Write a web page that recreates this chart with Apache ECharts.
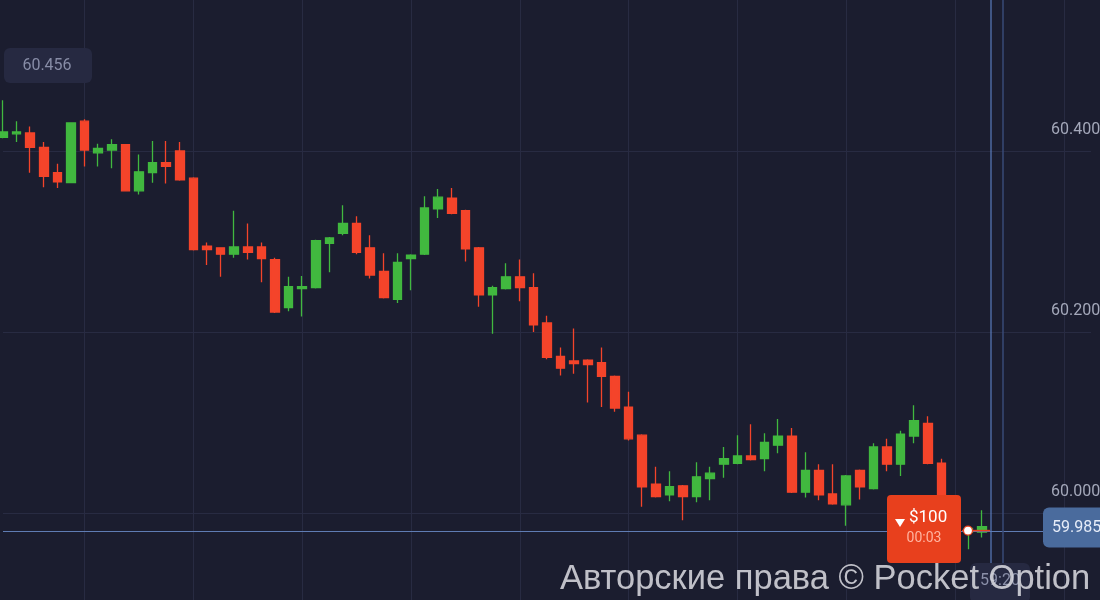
<!DOCTYPE html>
<html>
<head>
<meta charset="utf-8">
<script src="https://cdn.jsdelivr.net/npm/echarts@6/dist/echarts.min.js"></script>
<style>
html,body{margin:0;padding:0;background:#1b1d2f;overflow:hidden;width:1100px;height:600px;position:relative;}
#chart{position:absolute;left:0;top:-30px;width:1100px;height:724px;}
</style>
</head>
<body>
<div id="chart"></div>
<script>
// ---- data ----
const slotCount = 81; // candle slots across the view (last ones are empty future space)
const categories = Array.from({length: slotCount}, (_, i) => 'T' + (i + 1));

const opens = [60.415,60.419,60.420,60.404,60.376,60.365,60.433,60.398,60.401,60.407,
60.356,60.376,60.387,60.400,60.370,60.295,60.293,60.286,60.294,60.294,
60.280,60.227,60.248,60.249,60.298,60.309,60.320,60.293,60.267,60.236,
60.281,60.286,60.336,60.348,60.334,60.293,60.241,60.248,60.261,60.249,
60.210,60.173,60.168,60.169,60.166,60.151,60.117,60.086,60.032,60.020,
60.030,60.018,60.038,60.054,60.055,60.063,60.060,60.075,60.085,60.023,
60.047,60.021,60.009,60.047,60.027,60.073,60.054,60.085,60.099,60.055,
59.992,59.979,59.979];
const closes = [60.421,60.421,60.404,60.372,60.366,60.431,60.401,60.403,60.407,60.356,
60.377,60.387,60.383,60.368,60.291,60.291,60.286,60.294,60.288,60.281,
60.222,60.250,60.250,60.301,60.304,60.320,60.288,60.263,60.238,60.277,
60.285,60.337,60.349,60.331,60.292,60.241,60.249,60.261,60.249,60.208,
60.172,60.160,60.165,60.164,60.151,60.116,60.082,60.029,60.018,60.029,
60.018,60.040,60.044,60.060,60.063,60.059,60.078,60.085,60.023,60.047,
60.020,60.010,60.041,60.029,60.073,60.054,60.087,60.102,60.055,59.990,
59.982,59.983,59.985];
const lows = [60.414,60.410,60.376,60.360,60.359,60.365,60.383,60.383,60.381,60.356,
60.352,60.365,60.364,60.367,60.290,60.274,60.261,60.282,60.280,60.255,
60.221,60.223,60.217,60.248,60.266,60.307,60.286,60.259,60.237,60.232,
60.246,60.285,60.326,60.330,60.278,60.228,60.198,60.247,60.234,60.200,
60.170,60.152,60.154,60.122,60.117,60.112,60.080,60.007,60.017,60.013,
59.992,60.012,60.014,60.039,60.054,60.058,60.046,60.066,60.022,60.017,
60.014,60.009,59.986,60.015,60.026,60.046,60.041,60.077,60.054,59.986,
59.976,59.960,59.973];
const highs = [60.456,60.433,60.427,60.410,60.386,60.431,60.435,60.408,60.413,60.407,
60.396,60.411,60.411,60.410,60.371,60.299,60.293,60.334,60.320,60.299,
60.282,60.261,60.262,60.302,60.305,60.340,60.328,60.307,60.287,60.287,
60.286,60.350,60.358,60.359,60.335,60.294,60.251,60.276,60.280,60.265,
60.218,60.183,60.204,60.170,60.183,60.152,60.134,60.087,60.051,60.046,
60.031,60.056,60.051,60.073,60.086,60.098,60.088,60.104,60.094,60.067,
60.054,60.054,60.042,60.048,60.077,60.082,60.091,60.119,60.107,60.060,
59.993,59.984,60.003];

const currentPrice = 59.985;
const maxPriceLabel = '60.456';
const tradeAmount = '$100';
const tradeTimer = '00:03';
const crossTimeLabel = '59:20';
const watermark = 'Авторские права © Pocket Option';
const yTicks = {min: 59.8, max: 60.6, interval: 0.2};

// ---- chart ----
const GREEN = '#41b83f', RED = '#f4442a';
const DY = 30; // container is shifted up by this many px
const candles = opens.map((o, i) => [o, closes[i], lows[i], highs[i]]);

const chart = echarts.init(document.getElementById('chart'), null, {renderer: 'canvas'});
chart.setOption({
  backgroundColor: '#1b1d2f',
  animation: false,
  grid: {left: 3, right: 9, top: 0, bottom: 0, containLabel: false, outerBoundsMode: 'none'},
  xAxis: {
    type: 'category',
    data: categories,
    boundaryGap: false,
    axisLine: {show: false},
    axisTick: {show: false},
    axisLabel: {show: false},
    splitLine: {
      show: true,
      interval: (idx) => idx % 8 === 6,
      lineStyle: {color: '#282b42', width: 1}
    }
  },
  yAxis: {
    type: 'value',
    position: 'right',
    offset: -41,
    min: yTicks.min, max: yTicks.max, interval: yTicks.interval,
    axisLine: {show: false},
    axisTick: {show: false},
    splitLine: {show: true, lineStyle: {color: '#282b42', width: 1}},
    axisLabel: {
      margin: 1,
      color: '#a4a8ba',
      fontSize: 16,
      fontFamily: 'Roboto',
      verticalAlign: 'bottom',
      padding: [0, 0, 13, 0],
      formatter: (v) => v.toFixed(3)
    }
  },
  series: [{
    type: 'candlestick',
    data: candles,
    barWidth: 9,
    itemStyle: {
      color: GREEN, color0: RED,
      borderColor: GREEN, borderColor0: RED,
      borderWidth: 1.3
    },
    markLine: {
      silent: true,
      symbol: ['none', 'none'],
      label: {show: false},
      lineStyle: {color: '#5f7cb3', width: 1, type: 'solid'},
      data: [{yAxis: currentPrice}]
    }
  }]
});

const py = chart.convertToPixel({yAxisIndex: 0}, currentPrice); // container coords
const Y = (v) => v + DY; // page y -> container y
chart.setOption({
  graphic: [
    // expiration / crosshair vertical lines
    {type: 'line', z: 50, shape: {x1: 991, y1: 0, x2: 991, y2: 724}, style: {stroke: '#5b7dbf', lineWidth: 1.2}},
    {type: 'line', z: 50, shape: {x1: 1003, y1: 0, x2: 1003, y2: 724}, style: {stroke: '#394a77', lineWidth: 1.5}},
    // max price label
    {type: 'rect', z: 60, shape: {x: 4, y: Y(48), width: 88, height: 35, r: 6}, style: {fill: '#262941'}},
    {type: 'text', z: 61, x: 47, y: Y(66), style: {text: maxPriceLabel, fill: '#878ca6', fontSize: 16, fontFamily: 'Roboto', align: 'center', verticalAlign: 'middle'}},
    // trade box
    {type: 'rect', z: 60, shape: {x: 887, y: Y(495), width: 74, height: 68, r: 4}, style: {fill: '#e8401d'}},
    {type: 'polygon', z: 61, shape: {points: [[895, Y(519)], [905, Y(519)], [900, Y(527)]]}, style: {fill: '#ffffff'}},
    {type: 'text', z: 61, x: 909, y: Y(518), style: {text: tradeAmount, fill: '#ffffff', fontSize: 17, fontFamily: 'Roboto', align: 'left', verticalAlign: 'middle'}},
    {type: 'text', z: 61, x: 924, y: Y(538), style: {text: tradeTimer, fill: '#ffb3a0', fontSize: 14, fontFamily: 'Roboto', align: 'center', verticalAlign: 'middle'}},
    // trade line and entry dot
    {type: 'line', z: 55, shape: {x1: 962, y1: py + 4, x2: 990, y2: py + 4}, style: {stroke: '#e8401d', lineWidth: 1.5}},
    {type: 'circle', z: 62, shape: {cx: 968, cy: py + 4, r: 4.5}, style: {fill: '#ffffff', stroke: '#e8401d', lineWidth: 1.2}},
    // current price label
    {type: 'rect', z: 60, shape: {x: 1043, y: py - 19, width: 70, height: 40, r: 6}, style: {fill: '#4a6b9d'}},
    {type: 'text', z: 61, x: 1052, y: py + 1, style: {text: currentPrice.toFixed(3), fill: '#e6ecf8', fontSize: 16, fontFamily: 'Roboto', align: 'left', verticalAlign: 'middle'}},
    // bottom time label
    {type: 'rect', z: 60, shape: {x: 970, y: Y(563), width: 60, height: 40, r: 6}, style: {fill: '#262941'}},
    {type: 'text', z: 61, x: 1000, y: Y(581), style: {text: crossTimeLabel, fill: '#8a8fa8', fontSize: 16, fontFamily: 'Roboto', align: 'center', verticalAlign: 'middle'}},
    // watermark
    {type: 'text', z: 70, x: 560, y: Y(579), style: {text: watermark, fill: 'rgba(215,215,222,0.88)', fontSize: 34.5, fontFamily: 'Liberation Sans', align: 'left', verticalAlign: 'middle', shadowColor: 'rgba(0,0,0,0.4)', shadowBlur: 2}}
  ]
});
</script>
</body>
</html>
